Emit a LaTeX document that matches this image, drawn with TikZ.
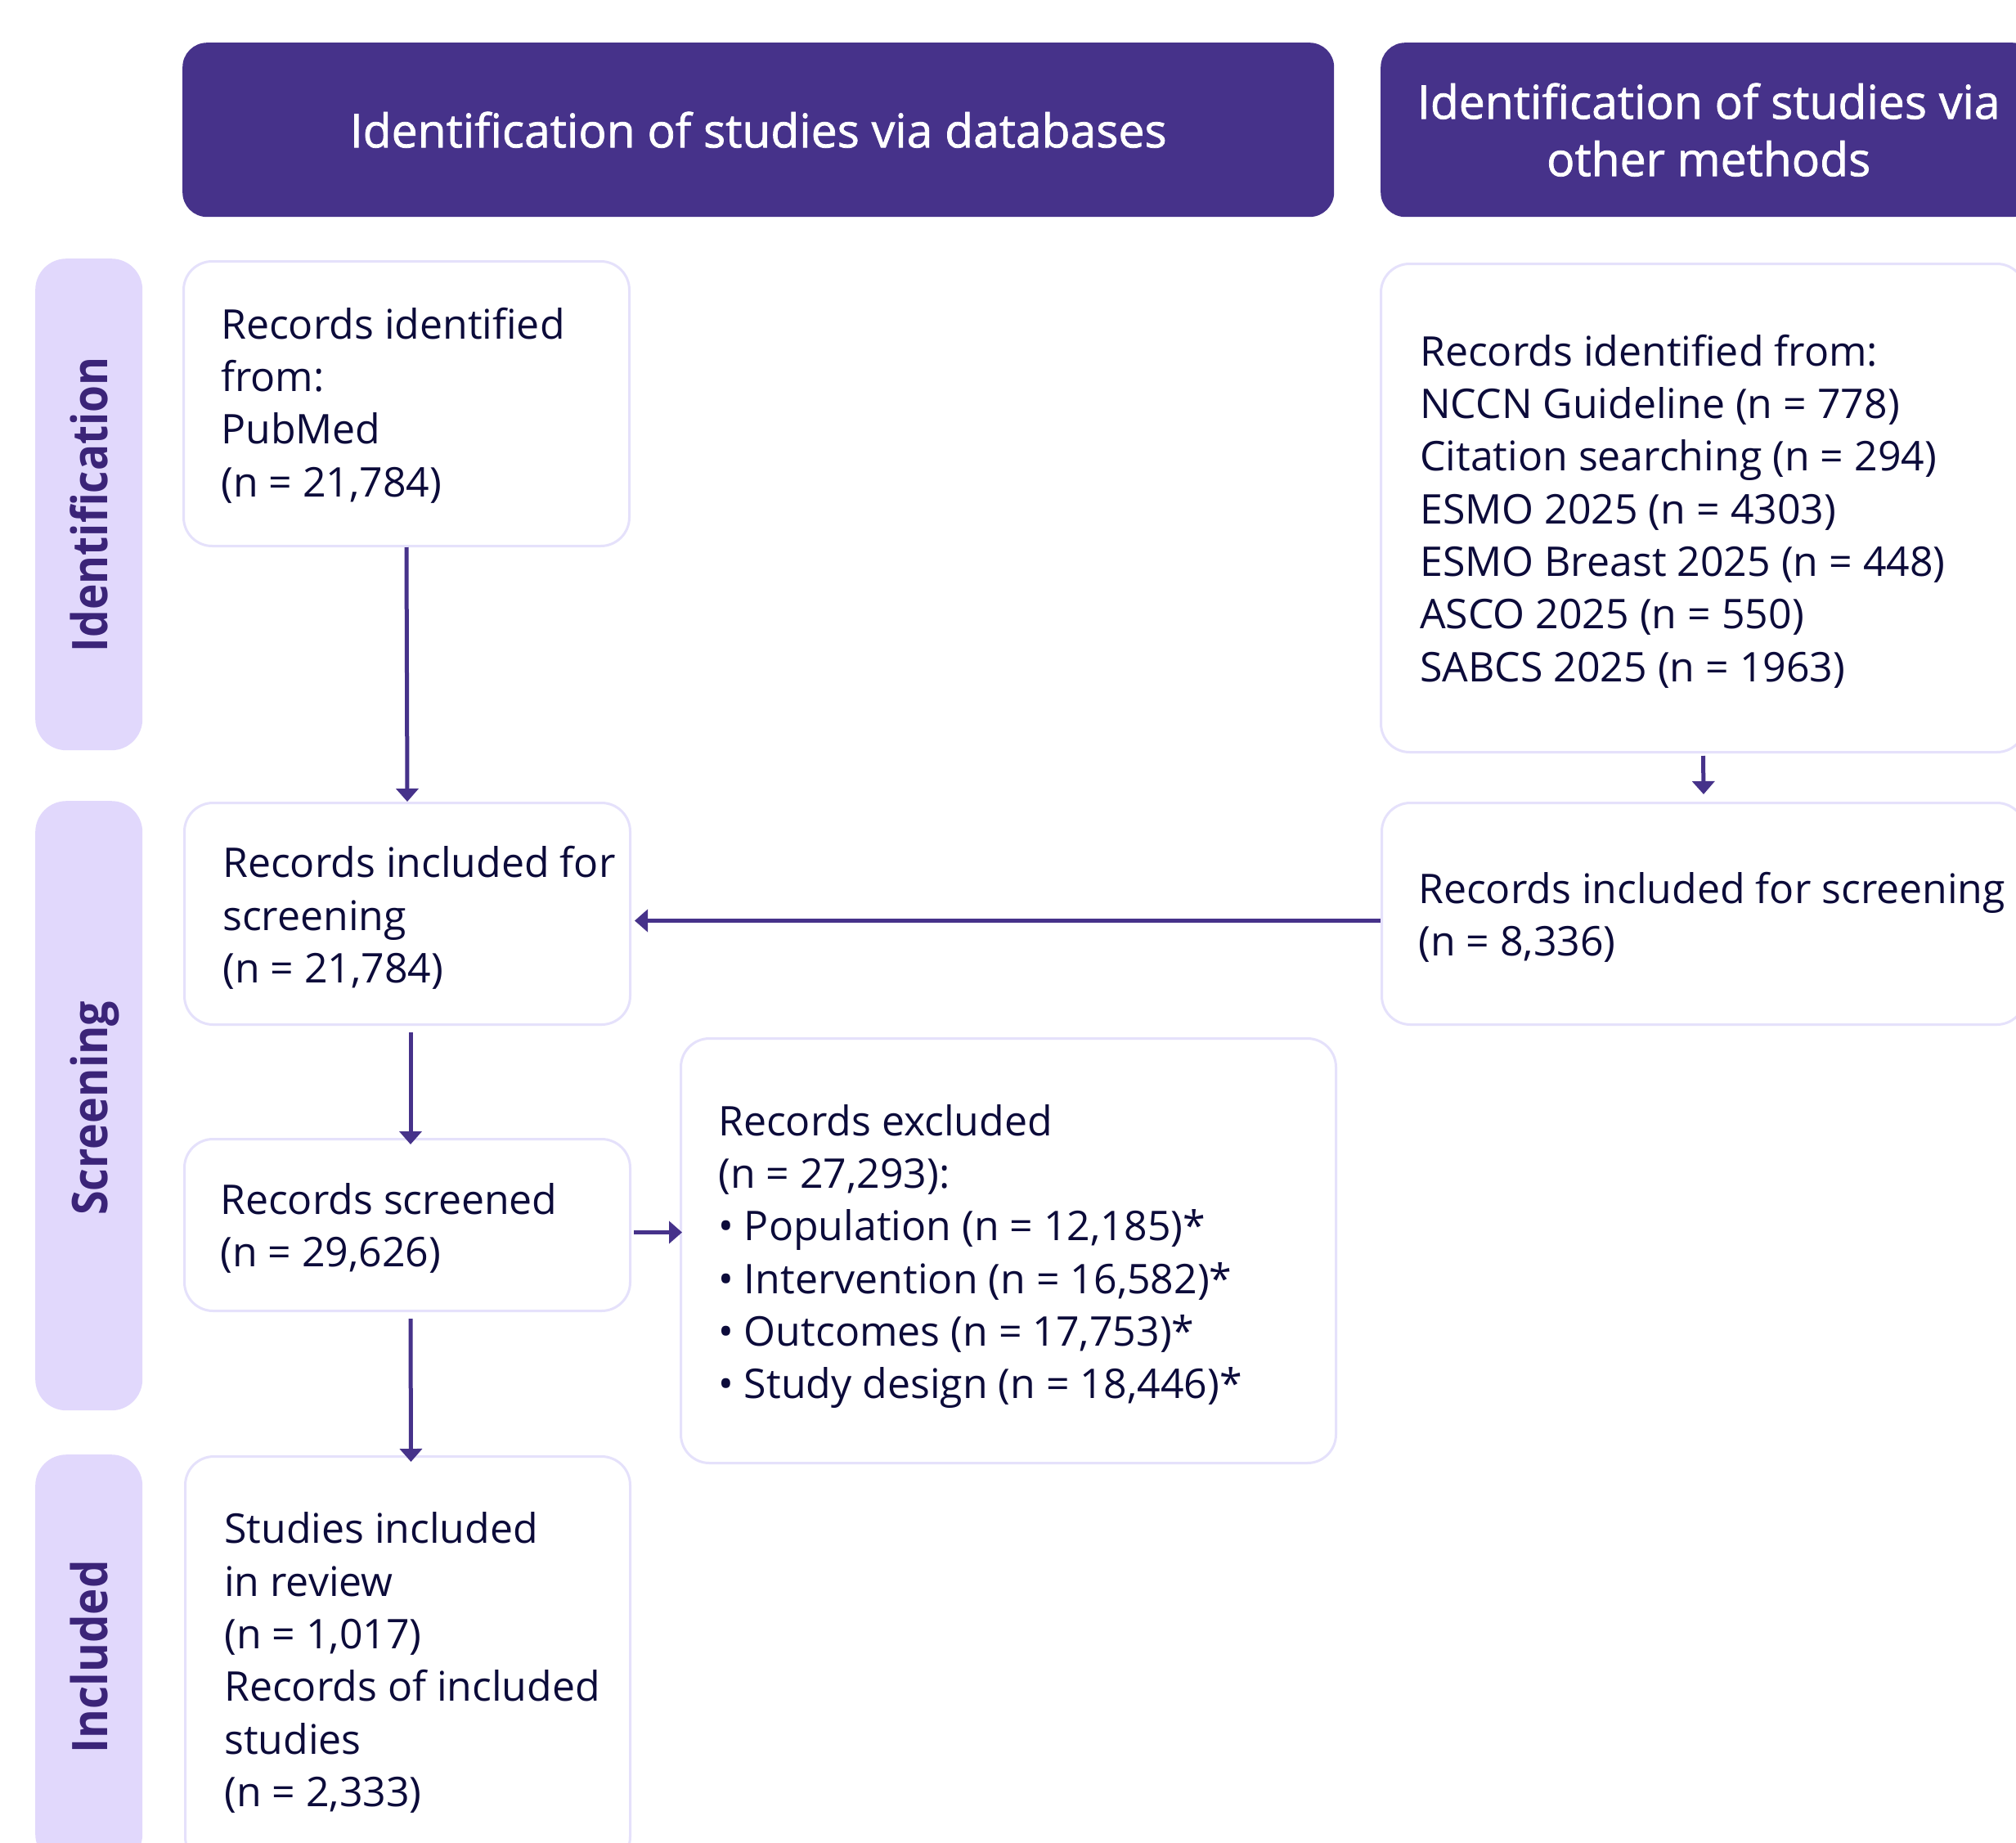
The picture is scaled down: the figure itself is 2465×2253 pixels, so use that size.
\documentclass[tikz,border=0pt]{standalone}
\usepackage{fontspec}
\setmainfont{Open Sans}
\newfontfamily\hdrfont{Open Sans}[FakeBold=1.3]
\usetikzlibrary{arrows.meta}
\definecolor{hdr}{HTML}{46328A}
\definecolor{bandfill}{HTML}{E1D8FC}
\definecolor{bandink}{HTML}{3B2478}
\definecolor{bord}{HTML}{E5E1FB}
\definecolor{ink}{HTML}{0C0B3A}
\definecolor{arrc}{HTML}{46328A}
\begin{document}
\begin{tikzpicture}[x=1pt,y=-1pt,
  hdrbox/.style={fill=hdr, rounded corners=30pt, anchor=north west, inner sep=0pt,
    text=white, align=center, font=\hdrfont\fontsize{57}{70}\selectfont},
  band/.style={fill=bandfill, rounded corners=38pt, anchor=north west, inner sep=0pt, minimum width=131pt},
  bandlabel/.style={rotate=90, anchor=base, inner sep=0pt, text=bandink,
    font=\fontsize{60}{70}\selectfont\bfseries},
  box/.style={draw=bord, line width=3pt, fill=white, rounded corners=35pt, anchor=north west, inner sep=0pt},
  txt/.style={anchor=west, align=left, inner sep=0pt, text=ink, font=\fontsize{50}{64.3}\selectfont},
  arr/.style={draw=arrc, line width=5pt, -{Triangle[width=27pt,length=16pt]}}
]
\useasboundingbox (0,0) rectangle (2465,2253);
\clip (0,0) rectangle (2465,2253);
\fill[white] (0,0) rectangle (2465,2253);

% headers
\node[hdrbox, minimum width=1408pt, minimum height=213pt] (H1) at (223,52) {Identification of studies via databases};
\node[hdrbox, minimum width=802pt, minimum height=213pt] (H2) at (1688,52) {Identification of studies via\\other methods};

% side bands
\node[band, minimum height=601pt] (BI) at (43,316) {};
\node[band, minimum height=745pt] (BS) at (43,979) {};
\node[band, minimum height=502pt] (BN) at (43,1778) {};
\node[bandlabel] (BIt) at ([xshift=22.5pt]BI.center) {\scalebox{0.887}[1]{Identification}};
\node[bandlabel] (BSt) at ([xshift=22.5pt,yshift=-3pt]BS.center) {\scalebox{0.898}[1]{Screening}};
\node[bandlabel] (BNt) at ([xshift=22.5pt,yshift=4pt]BN.center) {\scalebox{0.91}[1]{Included}};

% boxes
\node[box, minimum width=545pt, minimum height=348pt] (B1) at (223,318) {};
\node[box, minimum width=545pt, minimum height=271pt] (B2) at (224,980) {};
\node[box, minimum width=545pt, minimum height=210pt] (B3) at (224,1391) {};
\node[box, minimum width=544pt, minimum height=500pt] (B4) at (225,1779) {};
\node[box, minimum width=801pt, minimum height=519pt] (B5) at (831,1268) {};
\node[box, minimum width=788pt, minimum height=597pt] (R1) at (1687,321) {};
\node[box, minimum width=787pt, minimum height=271pt] (R2) at (1688,980) {};

% texts
\node[txt] (B1t) at ([xshift=47pt,yshift=-2pt]B1.west) {Records identified\\from:\\PubMed\\(n = 21,784)};
\node[txt] (B2t) at ([xshift=48pt,yshift=-5pt]B2.west) {Records included for\\screening\\(n = 21,784)};
\node[txt] (B3t) at ([xshift=45pt,yshift=-4pt]B3.west) {Records screened\\(n = 29,626)};
\node[txt] (B4t) at ([xshift=49pt,yshift=-2pt]B4.west) {Studies included\\in review\\(n = 1,017)\\Records of included\\studies\\(n = 2,333)};
\node[txt] (B5t) at ([xshift=47pt,yshift=-7pt]B5.west) {Records excluded\\(n = 27,293):\\• Population (n = 12,185)*\\• Intervention (n = 16,582)*\\• Outcomes (n = 17,753)*\\• Study design (n = 18,446)*};
\node[txt] (R1t) at ([xshift=49pt,yshift=-4pt]R1.west) {Records identified from:\\NCCN Guideline (n = 778)\\Citation searching (n = 294)\\ESMO 2025 (n = 4303)\\ESMO Breast 2025 (n = 448)\\ASCO 2025 (n = 550)\\SABCS 2025 (n = 1963)};
\node[txt] (R2t) at ([xshift=46pt,yshift=-4pt]R2.west) {Records included for screening\\(n = 8,336)};

% connectors
\draw[arr] (B1.south) -- (B2.north);
\draw[arr] ([yshift=-3pt]R1.south) -- ([yshift=9pt]R2.north);
\draw[arr] ([yshift=-8.5pt]R2.west) -- ([yshift=-8.5pt,xshift=4pt]B2.east);
\draw[arr] ([xshift=4pt,yshift=-8pt]B2.south) -- ([xshift=4pt,yshift=-8pt]B3.north);
\draw[arr] ([xshift=3pt,yshift=-9pt]B3.east) -- ([xshift=3pt,yshift=-9pt]B3.east -| B5.west);
\draw[arr] ([xshift=4pt,yshift=-8pt]B3.south) -- ([xshift=4pt,yshift=-8pt]B4.north);
\end{tikzpicture}
\end{document}
